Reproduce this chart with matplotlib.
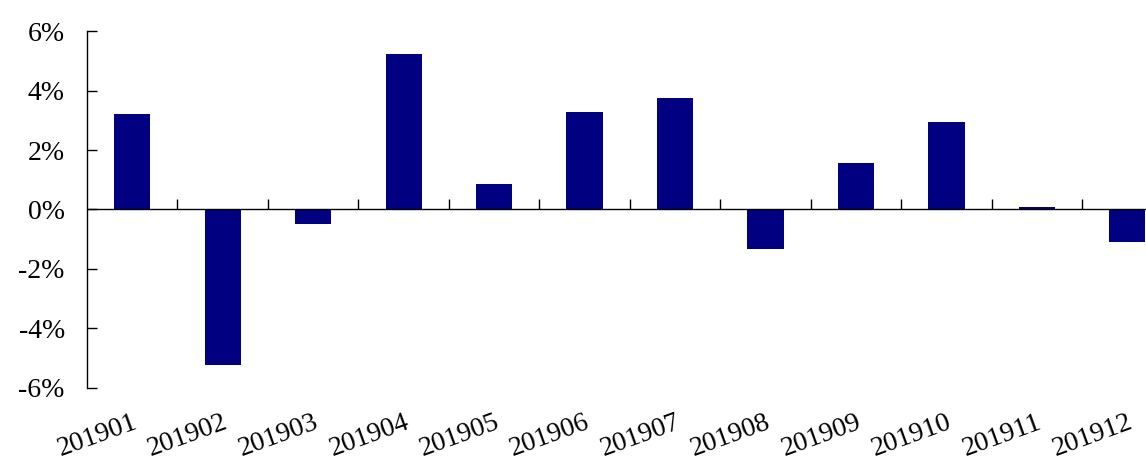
import numpy as np
import matplotlib.pyplot as plt
from matplotlib.ticker import FuncFormatter

# monthly returns, in %
months = ['201901', '201902', '201903', '201904', '201905', '201906',
          '201907', '201908', '201909', '201910', '201911', '201912']
returns = [3.2, -5.24, -0.5, 5.22, 0.85, 3.27, 3.76, -1.33, 1.58, 2.93, 0.07, -1.08]

plt.rcParams['font.family'] = ['Liberation Serif', 'DejaVu Serif']

fig = plt.figure(figsize=(11.46, 4.65), dpi=100)
# axes runs a little past the right edge, like the cropped original
ax = fig.add_axes([87 / 1146, 1 - 387.7 / 465, 1085.6 / 1146, 356.4 / 465])

x = np.arange(len(months))
ax.bar(x, returns, width=0.4, color='#000080')

ax.set_xlim(-0.5, len(months) - 0.5)
ax.set_ylim(-6, 6)
ax.set_yticks(np.arange(-6, 7, 2))
ax.yaxis.set_major_formatter(FuncFormatter(lambda v, p: '%d%%' % v))

for side in ['top', 'right', 'bottom']:
    ax.spines[side].set_visible(False)
ax.spines['left'].set_linewidth(1.0)
ax.tick_params(axis='y', direction='in', length=7, width=1.0, pad=16, labelsize=20)

# category labels along the bottom
ax.set_xticks(x)
ax.set_xticklabels(months, rotation=20, ha='right', va='top', rotation_mode='anchor')
ax.tick_params(axis='x', length=0, pad=16, labelsize=20)

# zero line with ticks between categories
ax.axhline(0, color='black', linewidth=1.0)
zero_axis = ax.secondary_xaxis(0.5)
for side in ['top', 'bottom']:
    zero_axis.spines[side].set_visible(False)
zero_axis.set_xticks(np.arange(0.5, len(months) - 0.5, 1))
zero_axis.tick_params(direction='out', length=7, width=1.0,
                      labeltop=False, labelbottom=False)

fig.savefig('out.png', dpi=100)
